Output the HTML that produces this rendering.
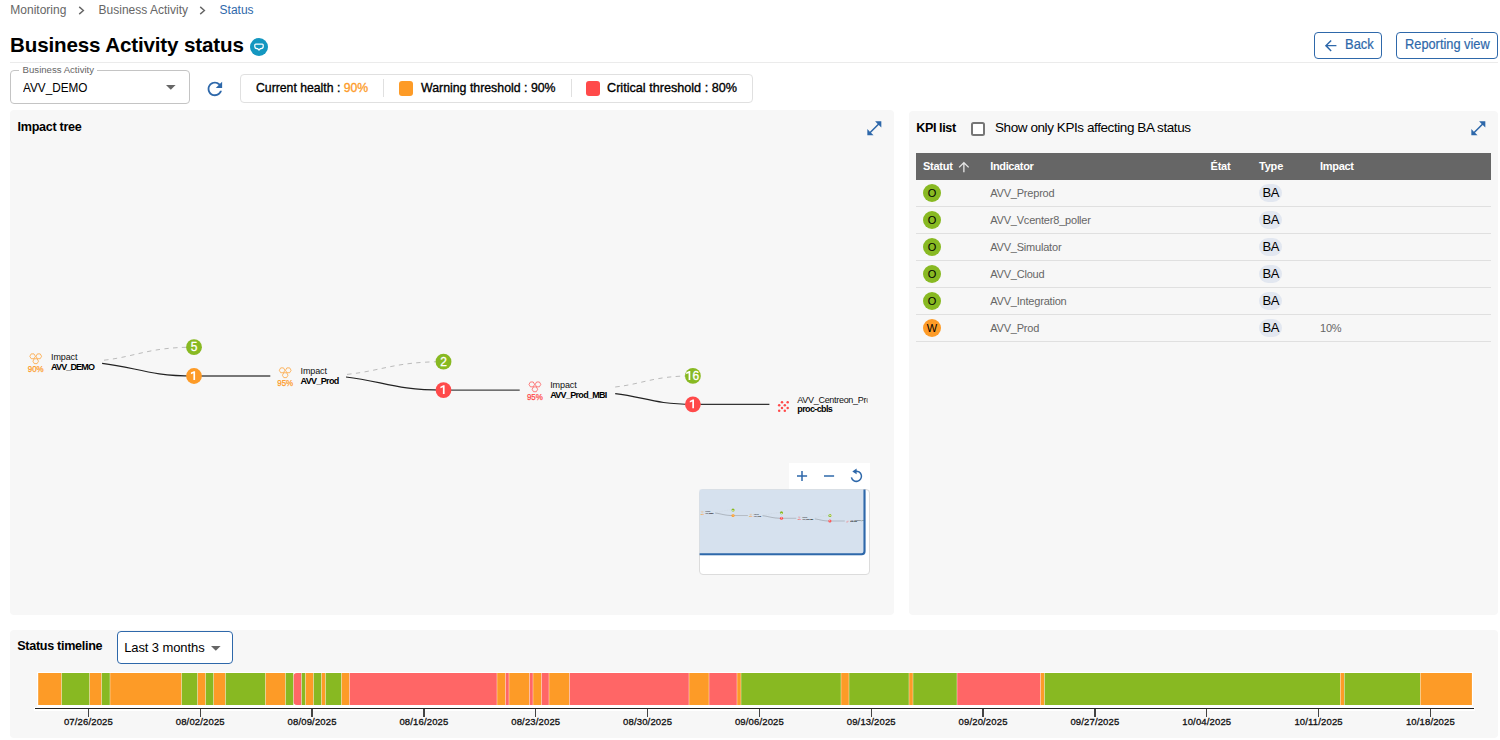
<!DOCTYPE html><html><head><meta charset="utf-8"><style>
*{margin:0;padding:0;box-sizing:border-box}
html,body{width:1500px;height:740px;overflow:hidden;background:#fff;font-family:'Liberation Sans',sans-serif;}
.t{position:absolute;white-space:nowrap}
.a{position:absolute}
</style></head><body>
<div class="t" style="left:10.30px;top:3.64px;font-size:12px;line-height:12px;color:#666;font-weight:400;letter-spacing:0px;">Monitoring</div>
<div class="t" style="left:98.60px;top:3.64px;font-size:12px;line-height:12px;color:#666;font-weight:400;letter-spacing:0px;">Business Activity</div>
<div class="t" style="left:219.60px;top:3.64px;font-size:12px;line-height:12px;color:#2e68aa;font-weight:400;letter-spacing:0px;">Status</div>
<svg class="a" style="left:78.3px;top:5.5px" width="8" height="9" viewBox="0 0 8 9"><path d="M1.2 0.9 L5.4 4.5 L1.2 8.1" fill="none" stroke="#666" stroke-width="1.4"/></svg>
<svg class="a" style="left:199.4px;top:5.5px" width="8" height="9" viewBox="0 0 8 9"><path d="M1.2 0.9 L5.4 4.5 L1.2 8.1" fill="none" stroke="#666" stroke-width="1.4"/></svg>
<div class="t" style="left:10.00px;top:35.16px;font-size:20.6px;line-height:20.6px;color:#000;font-weight:700;letter-spacing:-0.15px;">Business Activity status</div>
<svg class="a" style="left:250px;top:37.8px" width="18" height="18" viewBox="0 0 18 18">
<circle cx="9" cy="9" r="9" fill="#1497c0"/>
<path d="M5.7 6.1 H12.3 Q13.2 6.1 13.2 7 V8.6 Q13.2 10.7 11 10.7 H10.3 L9 12.1 L7.7 10.7 H7 Q4.8 10.7 4.8 8.6 V7 Q4.8 6.1 5.7 6.1 Z" fill="none" stroke="#fff" stroke-width="1.25" stroke-linejoin="round"/>
</svg>
<div class="a" style="left:10px;top:62px;width:1488px;height:1px;background:#ebebeb"></div>
<div class="a" style="left:1314px;top:32px;width:68px;height:27px;border:1px solid #2e68aa;border-radius:4px"></div>
<svg class="a" style="left:1321.6px;top:36.9px" width="17.3" height="17.3" viewBox="0 0 24 24"><path d="M20 11H7.83l5.59-5.59L12 4l-8 8 8 8 1.41-1.41L7.83 13H20v-2z" fill="#2e68aa"/></svg>
<div class="t" style="left:1345.00px;top:37.35px;font-size:14px;line-height:14px;color:#2e68aa;font-weight:400;transform:scaleX(0.925);transform-origin:0 0;-webkit-text-stroke:0.2px currentColor;">Back</div>
<div class="a" style="left:1396px;top:32px;width:102px;height:27px;border:1px solid #2e68aa;border-radius:4px"></div>
<div class="t" style="left:1405.40px;top:37.35px;font-size:14px;line-height:14px;color:#2e68aa;font-weight:400;transform:scaleX(0.915);transform-origin:0 0;-webkit-text-stroke:0.2px currentColor;">Reporting view</div>
<div class="a" style="left:10px;top:70px;width:180px;height:34px;border:1px solid #c4c4c4;border-radius:4px;background:#fff"></div>
<div class="a" style="left:19px;top:66px;width:78px;height:8px;background:#fff"></div>
<div class="t" style="left:22.60px;top:64.57px;font-size:9.6px;line-height:9.6px;color:#666;font-weight:400;letter-spacing:0px;">Business Activity</div>
<div class="t" style="left:22.50px;top:80.54px;font-size:13.3px;line-height:13.3px;color:#000;font-weight:400;transform:scaleX(0.885);transform-origin:0 0;">AVV_DEMO</div>
<svg class="a" style="left:165.9px;top:85.1px" width="10" height="5" viewBox="0 0 10 5"><path d="M0 0 L9.6 0 L4.8 4.7z" fill="#666"/></svg>
<svg class="a" style="left:203.9px;top:77.9px" width="21.75" height="21.75" viewBox="0 0 24 24"><path d="M17.65 6.35C16.2 4.9 14.21 4 12 4c-4.42 0-7.99 3.58-7.99 8s3.57 8 7.99 8c3.73 0 6.84-2.55 7.73-6h-2.08c-.82 2.33-3.04 4-5.65 4-3.31 0-6-2.69-6-6s2.69-6 6-6c1.66 0 3.14.69 4.22 1.78L13 11h7V4l-2.35 2.35z" fill="#2e68aa"/></svg>
<div class="a" style="left:240px;top:74px;width:513px;height:29px;border:1px solid #e0e0e0;border-radius:4px;background:#fff"></div>
<div class="t" style="left:255.80px;top:80.99px;font-size:13.6px;line-height:13.6px;color:#000;font-weight:400;transform:scaleX(0.9);transform-origin:0 0;-webkit-text-stroke:0.35px currentColor;">Current health : <span style="color:#fd9b27">90%</span></div>
<div class="a" style="left:383px;top:79px;width:1px;height:18px;background:#e0e0e0"></div>
<div class="a" style="left:398.8px;top:81px;width:14.2px;height:15px;background:#fd9b27;border-radius:3px"></div>
<div class="t" style="left:420.50px;top:80.99px;font-size:13.6px;line-height:13.6px;color:#000;font-weight:400;transform:scaleX(0.907);transform-origin:0 0;-webkit-text-stroke:0.35px currentColor;">Warning threshold : 90%</div>
<div class="a" style="left:571.3px;top:79px;width:1px;height:18px;background:#e0e0e0"></div>
<div class="a" style="left:586px;top:81px;width:14px;height:15px;background:#ff4a4a;border-radius:3px"></div>
<div class="t" style="left:607.20px;top:80.99px;font-size:13.6px;line-height:13.6px;color:#000;font-weight:400;transform:scaleX(0.93);transform-origin:0 0;-webkit-text-stroke:0.35px currentColor;">Critical threshold : 80%</div>
<div class="a" style="left:10px;top:110px;width:884px;height:505px;background:#f7f7f7;border-radius:4px"></div>
<div class="a" style="left:909px;top:111px;width:589px;height:504px;background:#f7f7f7;border-radius:4px"></div>
<div class="a" style="left:10px;top:630px;width:1488px;height:107.5px;background:#f7f7f7;border-radius:4px"></div>
<div class="t" style="left:17.60px;top:121.13px;font-size:12.6px;line-height:12.6px;color:#000;font-weight:700;letter-spacing:-0.3px;">Impact tree</div>
<svg class="a" style="left:864.67px;top:118.67px" width="18.67" height="18.67" viewBox="0 0 24 24"><path d="M21 11V3h-8l3.29 3.29-10 10L3 13v8h8l-3.29-3.29 10-10z" fill="#2e68aa"/></svg>
<div class="t" style="left:916.20px;top:122.23px;font-size:12.6px;line-height:12.6px;color:#000;font-weight:700;letter-spacing:-0.4px;">KPI list</div>
<div class="a" style="left:971px;top:122px;width:14px;height:14px;border:2px solid #767676;border-radius:2.5px;background:#fff"></div>
<div class="t" style="left:995.00px;top:121.17px;font-size:13.5px;line-height:13.5px;color:#000;font-weight:400;letter-spacing:-0.42px;">Show only KPIs affecting BA status</div>
<svg class="a" style="left:1468.87px;top:118.67px" width="18.67" height="18.67" viewBox="0 0 24 24"><path d="M21 11V3h-8l3.29 3.29-10 10L3 13v8h8l-3.29-3.29 10-10z" fill="#2e68aa"/></svg>
<div class="a" style="left:916px;top:153px;width:575px;height:27px;background:#666"></div>
<div class="t" style="left:923.00px;top:160.89px;font-size:11px;line-height:11px;color:#fff;font-weight:700;letter-spacing:-0.25px;">Statut</div>
<svg class="a" style="left:956.3px;top:158.9px" width="15.75" height="15.75" viewBox="0 0 24 24"><path d="M4 12l1.41 1.41L11 7.83V20h2V7.83l5.58 5.59L20 12l-8-8-8 8z" fill="#e6e6e6"/></svg>
<div class="t" style="left:990.20px;top:160.89px;font-size:11px;line-height:11px;color:#fff;font-weight:700;letter-spacing:-0.35px;">Indicator</div>
<div class="t" style="left:1210.50px;top:160.89px;font-size:11px;line-height:11px;color:#fff;font-weight:700;letter-spacing:-0.2px;">État</div>
<div class="t" style="left:1259.00px;top:160.89px;font-size:11px;line-height:11px;color:#fff;font-weight:700;letter-spacing:-0.2px;">Type</div>
<div class="t" style="left:1320.00px;top:160.89px;font-size:11px;line-height:11px;color:#fff;font-weight:700;letter-spacing:-0.3px;">Impact</div>
<div class="a" style="left:923px;top:184px;width:18px;height:18px;border-radius:50%;background:#88b922"></div>
<div class="t" style="left:923px;top:184px;width:18px;height:18px;line-height:18px;text-align:center;font-size:11px;color:#000">O</div>
<div class="t" style="left:990.20px;top:188.19px;font-size:11px;line-height:11px;color:#666;font-weight:400;letter-spacing:-0.2px;">AVV_Preprod</div>
<div class="a" style="left:1258.8px;top:183.8px;width:23.2px;height:18px;border-radius:9px;background:#e2e7f0"></div>
<div class="t" style="left:1262.50px;top:186.00px;font-size:13px;line-height:13px;color:#000;font-weight:400;letter-spacing:-0.3px;">BA</div>
<div class="a" style="left:916px;top:206px;width:575px;height:1px;background:#e0e0e0"></div>
<div class="a" style="left:923px;top:211px;width:18px;height:18px;border-radius:50%;background:#88b922"></div>
<div class="t" style="left:923px;top:211px;width:18px;height:18px;line-height:18px;text-align:center;font-size:11px;color:#000">O</div>
<div class="t" style="left:990.20px;top:215.19px;font-size:11px;line-height:11px;color:#666;font-weight:400;letter-spacing:-0.2px;">AVV_Vcenter8_poller</div>
<div class="a" style="left:1258.8px;top:210.8px;width:23.2px;height:18px;border-radius:9px;background:#e2e7f0"></div>
<div class="t" style="left:1262.50px;top:213.00px;font-size:13px;line-height:13px;color:#000;font-weight:400;letter-spacing:-0.3px;">BA</div>
<div class="a" style="left:916px;top:233px;width:575px;height:1px;background:#e0e0e0"></div>
<div class="a" style="left:923px;top:238px;width:18px;height:18px;border-radius:50%;background:#88b922"></div>
<div class="t" style="left:923px;top:238px;width:18px;height:18px;line-height:18px;text-align:center;font-size:11px;color:#000">O</div>
<div class="t" style="left:990.20px;top:242.19px;font-size:11px;line-height:11px;color:#666;font-weight:400;letter-spacing:-0.2px;">AVV_Simulator</div>
<div class="a" style="left:1258.8px;top:237.8px;width:23.2px;height:18px;border-radius:9px;background:#e2e7f0"></div>
<div class="t" style="left:1262.50px;top:240.00px;font-size:13px;line-height:13px;color:#000;font-weight:400;letter-spacing:-0.3px;">BA</div>
<div class="a" style="left:916px;top:260px;width:575px;height:1px;background:#e0e0e0"></div>
<div class="a" style="left:923px;top:265px;width:18px;height:18px;border-radius:50%;background:#88b922"></div>
<div class="t" style="left:923px;top:265px;width:18px;height:18px;line-height:18px;text-align:center;font-size:11px;color:#000">O</div>
<div class="t" style="left:990.20px;top:269.19px;font-size:11px;line-height:11px;color:#666;font-weight:400;letter-spacing:-0.2px;">AVV_Cloud</div>
<div class="a" style="left:1258.8px;top:264.8px;width:23.2px;height:18px;border-radius:9px;background:#e2e7f0"></div>
<div class="t" style="left:1262.50px;top:267.00px;font-size:13px;line-height:13px;color:#000;font-weight:400;letter-spacing:-0.3px;">BA</div>
<div class="a" style="left:916px;top:287px;width:575px;height:1px;background:#e0e0e0"></div>
<div class="a" style="left:923px;top:292px;width:18px;height:18px;border-radius:50%;background:#88b922"></div>
<div class="t" style="left:923px;top:292px;width:18px;height:18px;line-height:18px;text-align:center;font-size:11px;color:#000">O</div>
<div class="t" style="left:990.20px;top:296.19px;font-size:11px;line-height:11px;color:#666;font-weight:400;letter-spacing:-0.2px;">AVV_Integration</div>
<div class="a" style="left:1258.8px;top:291.8px;width:23.2px;height:18px;border-radius:9px;background:#e2e7f0"></div>
<div class="t" style="left:1262.50px;top:294.00px;font-size:13px;line-height:13px;color:#000;font-weight:400;letter-spacing:-0.3px;">BA</div>
<div class="a" style="left:916px;top:314px;width:575px;height:1px;background:#e0e0e0"></div>
<div class="a" style="left:923px;top:319px;width:18px;height:18px;border-radius:50%;background:#fd9b27"></div>
<div class="t" style="left:923px;top:319px;width:18px;height:18px;line-height:18px;text-align:center;font-size:11px;color:#000">W</div>
<div class="t" style="left:990.20px;top:323.19px;font-size:11px;line-height:11px;color:#666;font-weight:400;letter-spacing:-0.2px;">AVV_Prod</div>
<div class="a" style="left:1258.8px;top:318.8px;width:23.2px;height:18px;border-radius:9px;background:#e2e7f0"></div>
<div class="t" style="left:1262.50px;top:321.00px;font-size:13px;line-height:13px;color:#000;font-weight:400;letter-spacing:-0.3px;">BA</div>
<div class="t" style="left:1320.00px;top:323.19px;font-size:11px;line-height:11px;color:#666;font-weight:400;letter-spacing:-0.2px;">10%</div>
<div class="a" style="left:916px;top:341px;width:575px;height:1px;background:#e0e0e0"></div>
<svg class="a" style="left:0;top:0;font-family:'Liberation Sans',sans-serif" width="900" height="620" viewBox="0 0 900 620"><g id="graph"><path d="M104.00,360.20 C137.30,356.30 149.00,347.20 194.00,347.20" fill="none" stroke="#bbb" stroke-width="1" stroke-dasharray="4.4 4.4"/><path d="M102.10,363.30 C136.10,367.11 148.05,376.00 194.00,376.00" fill="none" stroke="#222" stroke-width="1.2"/><line x1="194" y1="376.0" x2="270.3" y2="376.0" stroke="#777" stroke-width="1.8"/><circle cx="194" cy="376.0" r="7.9" fill="#fd9b27"/><path d="M190.90,372.60 L193.90,371.15 L195.10,371.15 L195.10,380.00 L193.40,380.00 L193.40,373.25 L190.90,374.15 Z" fill="#fff"/><circle cx="194" cy="347.2" r="7.9" fill="#88b922"/><text stroke="#fff" stroke-width="0.3" x="194.00" y="351.20" font-size="12" fill="#fff" font-weight="400" letter-spacing="0" text-anchor="middle">5</text><path d="M347.00,374.40 C382.70,370.59 395.25,361.70 443.50,361.70" fill="none" stroke="#bbb" stroke-width="1" stroke-dasharray="4.4 4.4"/><path d="M346.00,377.00 C382.07,380.93 394.75,390.10 443.50,390.10" fill="none" stroke="#222" stroke-width="1.2"/><line x1="443.5" y1="390.1" x2="519.7" y2="390.1" stroke="#444" stroke-width="1.3"/><circle cx="443.5" cy="390.1" r="7.9" fill="#ff4a4a"/><path d="M440.40,386.70 L443.40,385.25 L444.60,385.25 L444.60,394.10 L442.90,394.10 L442.90,387.35 L440.40,388.25 Z" fill="#fff"/><circle cx="443.5" cy="361.7" r="7.9" fill="#88b922"/><text stroke="#fff" stroke-width="0.3" x="443.50" y="365.70" font-size="12" fill="#fff" font-weight="400" letter-spacing="0" text-anchor="middle">2</text><path d="M615.20,387.00 C643.95,383.67 654.05,375.90 692.90,375.90" fill="none" stroke="#bbb" stroke-width="1" stroke-dasharray="4.4 4.4"/><path d="M615.20,393.60 C643.95,396.81 654.05,404.30 692.90,404.30" fill="none" stroke="#222" stroke-width="1.2"/><line x1="692.9" y1="404.3" x2="769.4" y2="404.3" stroke="#333" stroke-width="1.2"/><circle cx="692.9" cy="404.3" r="7.9" fill="#ff4a4a"/><path d="M689.80,400.90 L692.80,399.45 L694.00,399.45 L694.00,408.30 L692.30,408.30 L692.30,401.55 L689.80,402.45 Z" fill="#fff"/><circle cx="692.9" cy="375.9" r="7.9" fill="#88b922"/><path d="M686.10,372.50 L689.10,371.05 L690.30,371.05 L690.30,379.90 L688.60,379.90 L688.60,373.15 L686.10,374.05 Z" fill="#fff"/><text stroke="#fff" stroke-width="0.3" x="692.55" y="379.90" font-size="12" fill="#fff" font-weight="400" letter-spacing="0" text-anchor="start">6</text><path d="M35.40,356.30 L34.00,358.72 L31.20,358.72 L29.80,356.30 L31.20,353.88 L34.00,353.88ZM41.60,356.30 L40.20,358.72 L37.40,358.72 L36.00,356.30 L37.40,353.88 L40.20,353.88ZM38.50,361.20 L37.10,363.62 L34.30,363.62 L32.90,361.20 L34.30,358.78 L37.10,358.78Z" fill="none" stroke="#fd9b27" stroke-width="0.7"/><text textLength="16" lengthAdjust="spacingAndGlyphs" stroke="#fd9b27" stroke-width="0.25" x="35.70" y="371.70" font-size="9" fill="#fd9b27" font-weight="400" letter-spacing="0" text-anchor="middle">90%</text><text x="51.00" y="359.90" font-size="9" fill="#111" font-weight="400" letter-spacing="-0.1" text-anchor="start">Impact</text><path d="M284.90,370.30 L283.50,372.72 L280.70,372.72 L279.30,370.30 L280.70,367.88 L283.50,367.88ZM291.10,370.30 L289.70,372.72 L286.90,372.72 L285.50,370.30 L286.90,367.88 L289.70,367.88ZM288.00,375.20 L286.60,377.62 L283.80,377.62 L282.40,375.20 L283.80,372.78 L286.60,372.78Z" fill="none" stroke="#fd9b27" stroke-width="0.7"/><text textLength="16" lengthAdjust="spacingAndGlyphs" stroke="#fd9b27" stroke-width="0.25" x="285.20" y="385.70" font-size="9" fill="#fd9b27" font-weight="400" letter-spacing="0" text-anchor="middle">95%</text><text x="300.50" y="373.90" font-size="9" fill="#111" font-weight="400" letter-spacing="-0.1" text-anchor="start">Impact</text><path d="M534.60,384.40 L533.20,386.82 L530.40,386.82 L529.00,384.40 L530.40,381.98 L533.20,381.98ZM540.80,384.40 L539.40,386.82 L536.60,386.82 L535.20,384.40 L536.60,381.98 L539.40,381.98ZM537.70,389.30 L536.30,391.72 L533.50,391.72 L532.10,389.30 L533.50,386.88 L536.30,386.88Z" fill="none" stroke="#ff4a4a" stroke-width="0.7"/><text textLength="16" lengthAdjust="spacingAndGlyphs" stroke="#ff4a4a" stroke-width="0.25" x="534.90" y="399.80" font-size="9" fill="#ff4a4a" font-weight="400" letter-spacing="0" text-anchor="middle">95%</text><text x="550.20" y="388.00" font-size="9" fill="#111" font-weight="400" letter-spacing="-0.1" text-anchor="start">Impact</text><text x="51.00" y="369.70" font-size="9" fill="#000" font-weight="700" letter-spacing="-0.85" text-anchor="start">AVV_DEMO</text><text x="300.50" y="383.70" font-size="9" fill="#000" font-weight="700" letter-spacing="-0.65" text-anchor="start">AVV_Prod</text><text x="550.20" y="397.80" font-size="9" fill="#000" font-weight="700" letter-spacing="-0.7" text-anchor="start">AVV_Prod_MBI</text><circle cx="782" cy="402.3" r="1.25" fill="#ff4a4a"/><circle cx="787.7" cy="402.3" r="1.25" fill="#ff4a4a"/><circle cx="779.2" cy="405.3" r="1.25" fill="#ff4a4a"/><circle cx="784.8" cy="405.3" r="1.25" fill="#ff4a4a"/><circle cx="782" cy="407.9" r="1.25" fill="#ff4a4a"/><circle cx="787.7" cy="407.9" r="1.25" fill="#ff4a4a"/><circle cx="779.2" cy="410.8" r="1.25" fill="#ff4a4a"/><circle cx="784.8" cy="410.8" r="1.25" fill="#ff4a4a"/><clipPath id="c4"><rect x="790" y="390" width="77.7" height="30"/></clipPath><g clip-path="url(#c4)"><text x="797.30" y="402.70" font-size="9" fill="#111" font-weight="400" letter-spacing="-0.3" text-anchor="start">AVV_Centreon_Proc-cbls</text></g><text x="797.30" y="411.70" font-size="9" fill="#000" font-weight="700" letter-spacing="-0.62" text-anchor="start">proc-cbls</text></g></svg>
<div class="a" style="left:789px;top:462.7px;width:81px;height:27px;background:#fff"></div>
<svg class="a" style="left:789px;top:462px" width="81" height="28" viewBox="789 462 81 28"><path d="M797 476 H807.1 M802 471 V481" stroke="#2e68aa" stroke-width="1.5" fill="none"/><path d="M824 476 H834.1" stroke="#2e68aa" stroke-width="1.5" fill="none"/><path d="M855.2 471.3 A5.1 5.1 0 1 1 851.4 477.4" stroke="#2e68aa" stroke-width="1.5" fill="none"/><path d="M852.3 471.6 L856.6 468.6 L856.6 474.2 Z" fill="#2e68aa"/></svg>
<div class="a" style="left:699px;top:489px;width:171px;height:86px;background:#fff;border:1px solid #dcdcdc;border-radius:4px"></div>
<svg class="a" style="left:699px;top:489px" width="171" height="86" viewBox="699 489 171 86"><clipPath id="mm"><rect x="699.6" y="489.6" width="165.9" height="65.7" rx="3"/></clipPath><rect x="699.6" y="489.6" width="165.9" height="65.7" rx="3" fill="#d6e1ee"/><rect x="699.6" y="489.6" width="10" height="20" fill="#d6e1ee"/><g clip-path="url(#mm)"><g transform="translate(695.35 442.5) scale(0.1942)" style="font-family:'Liberation Sans',sans-serif"><use href="#graph"/></g></g><path d="M864.5 489.6 V551.3 Q864.5 554.3 861.5 554.3 H699.6" fill="none" stroke="#2e68aa" stroke-width="2.1"/></svg>
<div class="t" style="left:17.20px;top:639.93px;font-size:12.6px;line-height:12.6px;color:#000;font-weight:700;letter-spacing:-0.3px;">Status timeline</div>
<div class="a" style="left:117px;top:631px;width:116px;height:33px;border:1px solid #2e68aa;border-radius:4px;background:#fff"></div>
<div class="t" style="left:124.20px;top:641.00px;font-size:13px;line-height:13px;color:#000;font-weight:400;letter-spacing:-0.1px;">Last 3 months</div>
<svg class="a" style="left:210.8px;top:645.8px" width="10" height="5" viewBox="0 0 10 5"><path d="M0 0 L9.6 0 L4.8 4.7z" fill="#666"/></svg>
<div class="a" style="left:37px;top:672px;width:1436.1px;height:35px;background:#fff"></div>
<div class="a" style="left:34px;top:706.5px;width:1441px;height:4px;background:#fff"></div>
<svg class="a" style="left:0;top:660px" width="1500" height="50" viewBox="0 660 1500 50"><rect x="38.20" y="673" width="23.20" height="32" fill="#fd9b27"/><rect x="61.80" y="673" width="27.60" height="32" fill="#88b922"/><rect x="89.80" y="673" width="11.60" height="32" fill="#fd9b27"/><rect x="101.80" y="673" width="8.00" height="32" fill="#88b922"/><rect x="110.20" y="673" width="71.20" height="32" fill="#fd9b27"/><rect x="181.80" y="673" width="15.60" height="32" fill="#88b922"/><rect x="197.80" y="673" width="7.60" height="32" fill="#fd9b27"/><rect x="205.80" y="673" width="7.60" height="32" fill="#88b922"/><rect x="213.80" y="673" width="11.50" height="32" fill="#fd9b27"/><rect x="225.70" y="673" width="39.60" height="32" fill="#88b922"/><rect x="265.70" y="673" width="19.60" height="32" fill="#fd9b27"/><rect x="285.70" y="673" width="7.60" height="32" fill="#88b922"/><path d="M296.70,673 H301.30 V705 H296.70 Q293.70,705 293.70,702 V676 Q293.70,673 296.70,673Z" fill="#ff6666"/><rect x="301.70" y="673" width="3.60" height="32" fill="#88b922"/><rect x="305.70" y="673" width="7.60" height="32" fill="#fd9b27"/><rect x="313.70" y="673" width="7.60" height="32" fill="#88b922"/><rect x="321.70" y="673" width="3.60" height="32" fill="#fd9b27"/><rect x="325.70" y="673" width="15.60" height="32" fill="#88b922"/><rect x="341.70" y="673" width="7.60" height="32" fill="#fd9b27"/><rect x="349.70" y="673" width="147.10" height="32" fill="#ff6666"/><rect x="497.20" y="673" width="8.10" height="32" fill="#fd9b27"/><rect x="505.70" y="673" width="3.10" height="32" fill="#ff6666"/><rect x="509.20" y="673" width="20.10" height="32" fill="#fd9b27"/><rect x="529.70" y="673" width="3.10" height="32" fill="#ff6666"/><rect x="533.20" y="673" width="8.10" height="32" fill="#fd9b27"/><rect x="541.70" y="673" width="7.10" height="32" fill="#ff6666"/><rect x="549.20" y="673" width="20.10" height="32" fill="#fd9b27"/><rect x="569.70" y="673" width="119.10" height="32" fill="#ff6666"/><rect x="689.20" y="673" width="19.60" height="32" fill="#fd9b27"/><rect x="709.20" y="673" width="27.60" height="32" fill="#ff6666"/><rect x="737.20" y="673" width="3.60" height="32" fill="#fd9b27"/><rect x="741.20" y="673" width="99.60" height="32" fill="#88b922"/><rect x="841.20" y="673" width="7.60" height="32" fill="#fd9b27"/><rect x="849.20" y="673" width="59.60" height="32" fill="#88b922"/><rect x="909.20" y="673" width="3.60" height="32" fill="#fd9b27"/><rect x="913.20" y="673" width="43.60" height="32" fill="#88b922"/><rect x="957.20" y="673" width="83.10" height="32" fill="#ff6666"/><rect x="1040.70" y="673" width="3.60" height="32" fill="#fd9b27"/><rect x="1044.70" y="673" width="295.40" height="32" fill="#88b922"/><rect x="1340.50" y="673" width="3.60" height="32" fill="#fd9b27"/><rect x="1344.50" y="673" width="75.60" height="32" fill="#88b922"/><rect x="1420.50" y="673" width="51.40" height="32" fill="#fd9b27"/></svg>
<div class="a" style="left:35px;top:707.6px;width:1439px;height:1.4px;background:#222"></div>
<div class="a" style="left:87.75px;top:708.5px;width:1.3px;height:8px;background:#444"></div>
<div class="t" style="left:58.45px;top:717.36px;width:60px;text-align:center;font-size:9.5px;line-height:9.5px;font-weight:400;letter-spacing:0.15px;color:#111;-webkit-text-stroke:0.3px #111">07/26/2025</div>
<div class="a" style="left:199.58px;top:708.5px;width:1.3px;height:8px;background:#444"></div>
<div class="t" style="left:170.28px;top:717.36px;width:60px;text-align:center;font-size:9.5px;line-height:9.5px;font-weight:400;letter-spacing:0.15px;color:#111;-webkit-text-stroke:0.3px #111">08/02/2025</div>
<div class="a" style="left:311.41px;top:708.5px;width:1.3px;height:8px;background:#444"></div>
<div class="t" style="left:282.11px;top:717.36px;width:60px;text-align:center;font-size:9.5px;line-height:9.5px;font-weight:400;letter-spacing:0.15px;color:#111;-webkit-text-stroke:0.3px #111">08/09/2025</div>
<div class="a" style="left:423.24px;top:708.5px;width:1.3px;height:8px;background:#444"></div>
<div class="t" style="left:393.94px;top:717.36px;width:60px;text-align:center;font-size:9.5px;line-height:9.5px;font-weight:400;letter-spacing:0.15px;color:#111;-webkit-text-stroke:0.3px #111">08/16/2025</div>
<div class="a" style="left:535.07px;top:708.5px;width:1.3px;height:8px;background:#444"></div>
<div class="t" style="left:505.77px;top:717.36px;width:60px;text-align:center;font-size:9.5px;line-height:9.5px;font-weight:400;letter-spacing:0.15px;color:#111;-webkit-text-stroke:0.3px #111">08/23/2025</div>
<div class="a" style="left:646.90px;top:708.5px;width:1.3px;height:8px;background:#444"></div>
<div class="t" style="left:617.60px;top:717.36px;width:60px;text-align:center;font-size:9.5px;line-height:9.5px;font-weight:400;letter-spacing:0.15px;color:#111;-webkit-text-stroke:0.3px #111">08/30/2025</div>
<div class="a" style="left:758.73px;top:708.5px;width:1.3px;height:8px;background:#444"></div>
<div class="t" style="left:729.43px;top:717.36px;width:60px;text-align:center;font-size:9.5px;line-height:9.5px;font-weight:400;letter-spacing:0.15px;color:#111;-webkit-text-stroke:0.3px #111">09/06/2025</div>
<div class="a" style="left:870.56px;top:708.5px;width:1.3px;height:8px;background:#444"></div>
<div class="t" style="left:841.26px;top:717.36px;width:60px;text-align:center;font-size:9.5px;line-height:9.5px;font-weight:400;letter-spacing:0.15px;color:#111;-webkit-text-stroke:0.3px #111">09/13/2025</div>
<div class="a" style="left:982.39px;top:708.5px;width:1.3px;height:8px;background:#444"></div>
<div class="t" style="left:953.09px;top:717.36px;width:60px;text-align:center;font-size:9.5px;line-height:9.5px;font-weight:400;letter-spacing:0.15px;color:#111;-webkit-text-stroke:0.3px #111">09/20/2025</div>
<div class="a" style="left:1094.22px;top:708.5px;width:1.3px;height:8px;background:#444"></div>
<div class="t" style="left:1064.92px;top:717.36px;width:60px;text-align:center;font-size:9.5px;line-height:9.5px;font-weight:400;letter-spacing:0.15px;color:#111;-webkit-text-stroke:0.3px #111">09/27/2025</div>
<div class="a" style="left:1206.05px;top:708.5px;width:1.3px;height:8px;background:#444"></div>
<div class="t" style="left:1176.75px;top:717.36px;width:60px;text-align:center;font-size:9.5px;line-height:9.5px;font-weight:400;letter-spacing:0.15px;color:#111;-webkit-text-stroke:0.3px #111">10/04/2025</div>
<div class="a" style="left:1317.88px;top:708.5px;width:1.3px;height:8px;background:#444"></div>
<div class="t" style="left:1288.58px;top:717.36px;width:60px;text-align:center;font-size:9.5px;line-height:9.5px;font-weight:400;letter-spacing:0.15px;color:#111;-webkit-text-stroke:0.3px #111">10/11/2025</div>
<div class="a" style="left:1429.71px;top:708.5px;width:1.3px;height:8px;background:#444"></div>
<div class="t" style="left:1400.41px;top:717.36px;width:60px;text-align:center;font-size:9.5px;line-height:9.5px;font-weight:400;letter-spacing:0.15px;color:#111;-webkit-text-stroke:0.3px #111">10/18/2025</div>
</body></html>
